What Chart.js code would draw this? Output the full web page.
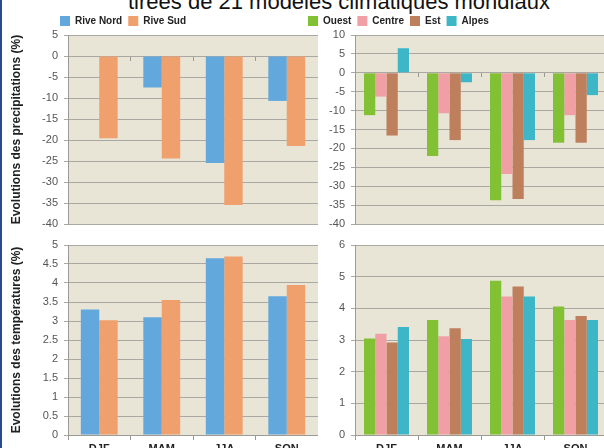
<!DOCTYPE html>
<html>
<head>
<meta charset="utf-8">
<script src="https://cdn.jsdelivr.net/npm/chart.js@4"></script>
<style>
  html, body { margin: 0; padding: 0; width: 604px; height: 448px; overflow: hidden; background: #fff; }
  body { position: relative; font-family: "Liberation Sans", Arial, sans-serif; }
  .edge { position: absolute; left: 0; top: 0; width: 2px; height: 448px; background: #2b4a8b; }
  .heading { position: absolute; left: 128px; top: -9px; font-size: 22px; line-height: 22px; color: #111; white-space: nowrap; }
  canvas { position: absolute; }
</style>
</head>
<body>
<div class="heading">tirées de 21 modèles climatiques mondiaux</div>
<canvas id="precipRive" width="318" height="240" style="left:0;top:0"></canvas>
<canvas id="precipRegion" width="307" height="240" style="left:300px;top:0"></canvas>
<canvas id="tempRive" width="318" height="230" style="left:0;top:232px"></canvas>
<canvas id="tempRegion" width="307" height="230" style="left:300px;top:232px"></canvas>
<div class="edge"></div>
<script>
// Seasons and series names
const seasons = ['DJF', 'MAM', 'JJA', 'SON'];
const riveNames = ['Rive Nord', 'Rive Sud'];
const regionNames = ['Ouest', 'Centre', 'Est', 'Alpes'];

// Precipitation change (%) per season
const precipRiveNord = [0, -7.5, -25.5, -10.7];
const precipRiveSud  = [-19.6, -24.4, -35.5, -21.4];
const precipOuest    = [-11.2, -22.0, -33.7, -18.5];
const precipCentre   = [-6.3, -10.7, -26.8, -11.2];
const precipEst      = [-16.6, -17.8, -33.4, -18.5];
const precipAlpes    = [6.5, -2.5, -17.8, -5.9];

// Temperature change per season
const tempRiveNord = [3.3, 3.1, 4.65, 3.65];
const tempRiveSud  = [3.02, 3.55, 4.7, 3.95];
const tempOuest    = [3.05, 3.63, 4.87, 4.06];
const tempCentre   = [3.2, 3.12, 4.37, 3.63];
const tempEst      = [2.92, 3.37, 4.69, 3.76];
const tempAlpes    = [3.41, 3.03, 4.37, 3.63];

// Axis ranges: [min, max, step]
const precipRiveAxis   = [-40, 5, 5];
const precipRegionAxis = [-40, 10, 5];
const tempRiveAxis     = [0, 5, 0.5];
const tempRegionAxis   = [0, 6, 1];

const riveColors   = ['#62a8dc', '#f0a06c'];
const regionColors = ['#82c034', '#f0a0a4', '#bd7f5c', '#3db6c7'];

const FONT = '"Liberation Sans", Arial, sans-serif';
const GRID = '#aaa8a2';
const AXIS = '#9c9a94';

// Beige fill behind the bars
const plotBackground = {
  id: 'plotBackground',
  beforeDraw(chart, args, opts) {
    const { ctx, chartArea: { left, top, width, height } } = chart;
    ctx.save();
    ctx.fillStyle = opts.color || '#e8e4d6';
    ctx.fillRect(left, top, width, height);
    ctx.restore();
  }
};

// Fixed legend band height and legend position
const legendPlacement = {
  id: 'legendPlacement',
  beforeLayout(chart, args, opts) {
    const lg = chart.legend;
    if (lg && !lg._bandWrapped && opts.height != null) {
      const fit = lg.fit.bind(lg);
      lg.fit = function () { fit(); this.height = opts.height; };
      lg._bandWrapped = true;
    }
  },
  afterLayout(chart, args, opts) {
    const lg = chart.legend;
    if (!lg || opts.x == null) return;
    const w = lg.width;
    lg.left = opts.x; lg.right = opts.x + w;
    if (opts.y != null) { lg.top = opts.y; }
  }
};

function buildDatasets(names, colors, series) {
  return names.map((n, i) => ({
    label: n,
    data: series[i],
    backgroundColor: colors[i],
    borderWidth: 0
  }));
}

function makeChart(id, cfg) {
  const [ymin, ymax, ystep] = cfg.axis;
  const xScale = cfg.top ? {
    position: { y: 0 },
    ticks: { display: false },
    grid: { drawOnChartArea: false, offset: true, tickLength: 4, color: AXIS },
    border: { display: true, color: GRID },
    afterFit: s => { s.height = 0; }
  } : {
    ticks: { color: '#222', font: { family: FONT, size: 11, weight: 'bold' }, padding: 2 },
    grid: { drawOnChartArea: false, offset: true, tickLength: 5, color: AXIS },
    border: { display: true, color: AXIS },
    afterFit: s => { s.height = 27; }
  };
  return new Chart(document.getElementById(id), {
    type: 'bar',
    data: { labels: seasons, datasets: buildDatasets(cfg.names, cfg.colors, cfg.series) },
    options: {
      responsive: false,
      animation: false,
      devicePixelRatio: 1,
      layout: { padding: cfg.top ? { top: 0, bottom: 16, left: 0, right: 0 } : { top: 13, bottom: 0, left: 0, right: 0 } },
      datasets: { bar: { categoryPercentage: cfg.catPct, barPercentage: 1 } },
      scales: {
        x: xScale,
        y: {
          min: ymin, max: ymax,
          ticks: {
            stepSize: ystep, color: '#555', padding: 6,
            font: { family: FONT, size: 11 },
            callback: v => String(+v.toFixed(2))
          },
          grid: { color: GRID, lineWidth: 1, tickLength: 4 },
          border: { display: true, color: AXIS },
          title: {
            display: !!cfg.yTitle, text: cfg.yTitle || '', color: '#222',
            font: { family: FONT, size: 12, weight: 'bold' },
            padding: { top: 9, bottom: 0 }
          },
          afterFit: s => { s.width = cfg.yWidth; }
        }
      },
      plugins: {
        tooltip: { enabled: false },
        plotBackground: { color: '#e8e4d6' },
        legend: {
          display: !!cfg.top,
          position: 'top',
          align: 'start',
          labels: {
            boxWidth: 10, boxHeight: 10, padding: 6, color: '#222',
            font: { family: FONT, size: 10, weight: 'bold' }
          }
        },
        legendPlacement: cfg.top ? { height: 35, x: cfg.legendX, y: 10 } : {}
      }
    },
    plugins: [plotBackground, legendPlacement]
  });
}

makeChart('precipRive', {
  top: true, axis: precipRiveAxis, names: riveNames, colors: riveColors,
  series: [precipRiveNord, precipRiveSud], catPct: 0.59, yWidth: 68,
  yTitle: 'Evolutions des precipitations (%)', legendX: 54
});
makeChart('precipRegion', {
  top: true, axis: precipRegionAxis, names: regionNames, colors: regionColors,
  series: [precipOuest, precipCentre, precipEst, precipAlpes], catPct: 0.714, yWidth: 55,
  legendX: 2
});
makeChart('tempRive', {
  top: false, axis: tempRiveAxis, names: riveNames, colors: riveColors,
  series: [tempRiveNord, tempRiveSud], catPct: 0.59, yWidth: 68,
  yTitle: 'Evolutions des températures (%)'
});
makeChart('tempRegion', {
  top: false, axis: tempRegionAxis, names: regionNames, colors: regionColors,
  series: [tempOuest, tempCentre, tempEst, tempAlpes], catPct: 0.714, yWidth: 55
});
</script>
</body>
</html>
